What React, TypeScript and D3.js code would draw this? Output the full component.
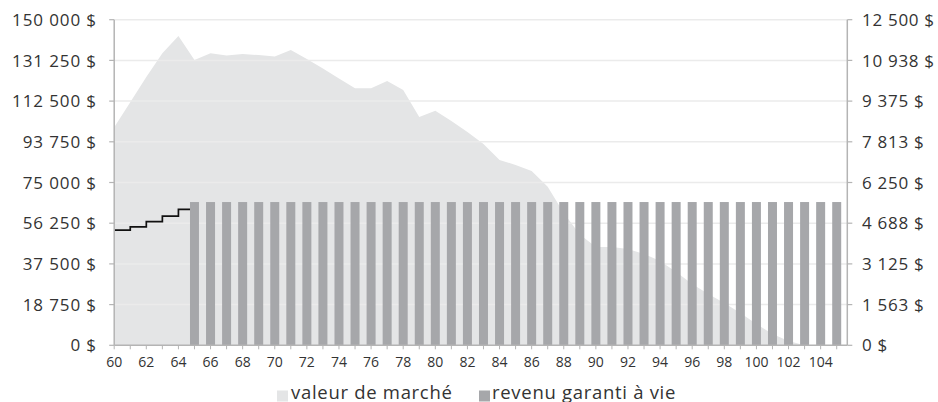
import React from 'react';
import * as d3 from 'd3';

// ages on the x axis
const ages = [
  60, 61, 62, 63, 64, 65, 66, 67, 68, 69, 70, 71, 72, 73, 74, 75, 76, 77, 78, 79, 80, 81, 82,
  83, 84, 85, 86, 87, 88, 89, 90, 91, 92, 93, 94, 95, 96, 97, 98, 99, 100, 101, 102, 103, 104, 105,
];
// valeur de marché (left axis)
const marketValue = [
  100500, 112000, 123600, 134600, 142500, 131400, 134600, 133500, 134200, 133700, 133000, 136000,
  131900, 127500, 122900, 118400, 118400, 121800, 117600, 105200, 108100, 103300, 98300, 92700,
  85400, 83100, 80300, 73000, 61000, 51000, 45300, 45300, 44400, 42100, 38800, 33800, 28200,
  23600, 19500, 14900, 9800, 5200, 2000, 0, 0, 0,
];
// revenu garanti à vie (right axis), from 65 on
const incomeAges = [
  65, 66, 67, 68, 69, 70, 71, 72, 73, 74, 75, 76, 77, 78, 79, 80, 81, 82, 83, 84, 85,
  86, 87, 88, 89, 90, 91, 92, 93, 94, 95, 96, 97, 98, 99, 100, 101, 102, 103, 104, 105,
];
const incomeValues = [
  5500, 5500, 5500, 5500, 5500, 5500, 5500, 5500, 5500, 5500, 5500, 5500, 5500, 5500,
  5500, 5500, 5500, 5500, 5500, 5500, 5500, 5500, 5500, 5500, 5500, 5500, 5500, 5500,
  5500, 5500, 5500, 5500, 5500, 5500, 5500, 5500, 5500, 5500, 5500, 5500, 5500,
];
// guaranteed base growing before 65 (step line, right axis)
const stepAges = [60, 61, 62, 63, 64, 65];
const stepValues = [4420, 4550, 4750, 4960, 5220, 5220];

const leftTicks = [0, 18750, 37500, 56250, 75000, 93750, 112500, 131250, 150000];
const rightTicks = [0, 1562.5, 3125, 4687.5, 6250, 7812.5, 9375, 10937.5, 12500];
const xLabelAges = [
  60, 62, 64, 66, 68, 70, 72, 74, 76, 78, 80, 82, 84, 86, 88, 90, 92, 94, 96, 98, 100, 102, 104,
];
const legendLabels = ['valeur de marché', 'revenu garanti à vie'];

const W = 938;
const H = 402;
const margin = { top: 19.7, right: 90.7, bottom: 56.7, left: 114.2 };
const X_END_PAD = 0.66; // axis runs a bit past the last age

const AREA = '#e4e5e6';
const BAR = '#a6a7aa';
const GRID = '#ebebeb';
const AXIS = '#b4b4b4';
const TEXT = '#333333';
const FONT = '"Open Sans", sans-serif';

const loc = d3.formatLocale({ decimal: ',', thousands: '\u00a0', grouping: [3], currency: ['', ''] });
const money = (v: number) => `${loc.format(',.0f')(v)}\u00a0$`;

export default function App() {
  const x = d3
    .scaleLinear()
    .domain([ages[0], ages[ages.length - 1] + X_END_PAD])
    .range([margin.left, W - margin.right]);
  const yL = d3.scaleLinear().domain([0, 150000]).range([H - margin.bottom, margin.top]);
  const yR = d3.scaleLinear().domain([0, 12500]).range([H - margin.bottom, margin.top]);

  const step = x(ages[1]) - x(ages[0]);
  const barW = step * 0.56;
  const [x0, x1] = x.range();
  const base = yL(0);

  const areaPath =
    d3
      .area<number>()
      .x((_, i) => x(ages[i]))
      .y0(base)
      .y1(d => yL(d))(marketValue) || '';

  const stepPath =
    d3
      .line<number>()
      .x((_, i) => x(stepAges[i]))
      .y(d => yR(d))
      .curve(d3.curveStepAfter)(stepValues) || '';

  return (
    <svg
      width={W}
      height={H}
      style={{ position: 'absolute', left: 0, top: 0, display: 'block', background: '#fff' }}
      fontFamily={FONT}
    >
      <path d={areaPath} fill={AREA} />

      {/* grid */}
      {leftTicks.slice(1).map(t => (
        <line key={t} x1={x0} x2={x1} y1={yL(t)} y2={yL(t)} stroke={GRID} strokeWidth={1.5} />
      ))}

      <path d={stepPath} fill="none" stroke="#111" strokeWidth={1.7} />

      {incomeValues.map((v, i) => (
        <rect
          key={incomeAges[i]}
          x={x(incomeAges[i]) - barW / 2}
          y={yR(v)}
          width={barW}
          height={base - yR(v)}
          fill={BAR}
        />
      ))}

      {/* left axis */}
      <line x1={x0} x2={x0} y1={yL(150000)} y2={base} stroke={AXIS} strokeWidth={1.5} />
      {leftTicks.map(t => (
        <g key={t}>
          <line x1={x0 - 5} x2={x0} y1={yL(t)} y2={yL(t)} stroke={AXIS} strokeWidth={1.2} />
          <text x={97} y={yL(t)} dy="0.36em" textAnchor="end" fontSize={17} fill={TEXT} letterSpacing={0.9}>
            {money(t)}
          </text>
        </g>
      ))}

      {/* right axis */}
      <line x1={x1} x2={x1} y1={yR(12500)} y2={base} stroke={AXIS} strokeWidth={1.5} />
      {rightTicks.map(t => (
        <g key={t}>
          <line x1={x1} x2={x1 + 5} y1={yR(t)} y2={yR(t)} stroke={AXIS} strokeWidth={1.2} />
          <text x={862} y={yR(t)} dy="0.36em" textAnchor="start" fontSize={17} fill={TEXT} letterSpacing={0.7}>
            {money(t)}
          </text>
        </g>
      ))}

      {/* bottom axis */}
      <line x1={x0} x2={x1} y1={base} y2={base} stroke={AXIS} strokeWidth={1.5} />
      {ages.map(a => (
        <line key={a} x1={x(a)} x2={x(a)} y1={base} y2={base + 4} stroke={AXIS} strokeWidth={1} />
      ))}
      {xLabelAges.map(a => (
        <text key={a} x={x(a)} y={367} textAnchor="middle" fontSize={14} fill={TEXT}>
          {a}
        </text>
      ))}

      {/* legend */}
      <rect x={277} y={390.5} width={11} height={11} fill={AREA} />
      <text x={291} y={399} fontSize={18.5} fill={TEXT} letterSpacing={0.7}>
        {legendLabels[0]}
      </text>
      <rect x={479} y={390.5} width={11} height={11} fill={BAR} />
      <text x={492} y={399} fontSize={18.5} fill={TEXT} letterSpacing={0.7}>
        {legendLabels[1]}
      </text>
    </svg>
  );
}
